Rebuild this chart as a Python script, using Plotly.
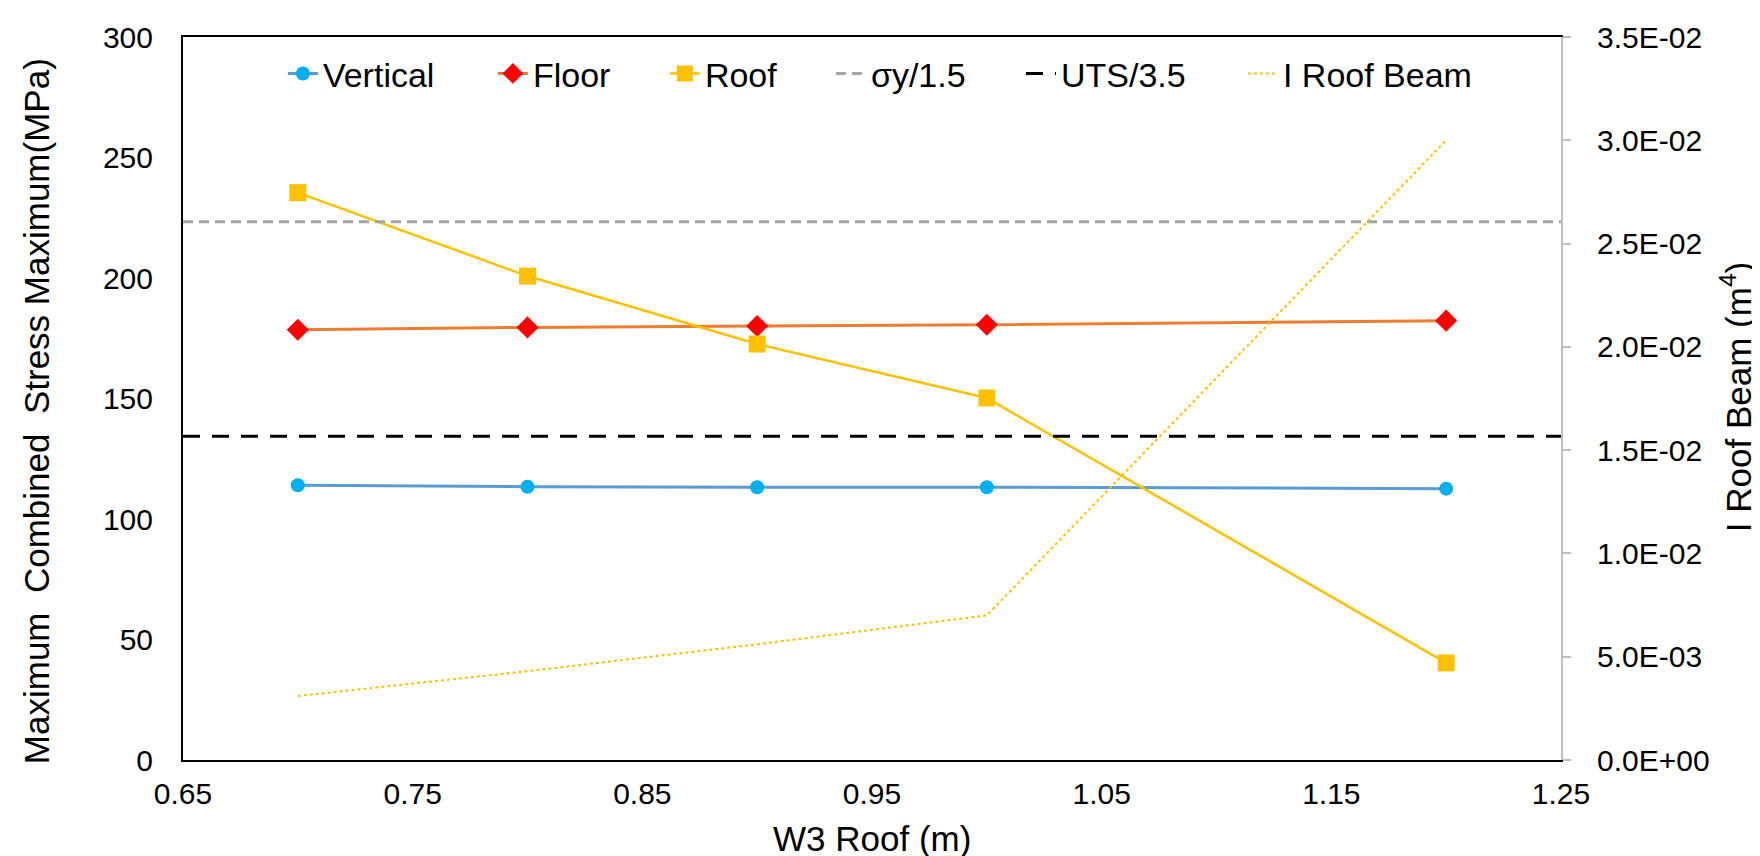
import plotly.graph_objects as go

# ---------------- data ----------------
w3_roof = [0.7, 0.8, 0.9, 1.0, 1.2]
vertical = [114.0, 113.4, 113.2, 113.2, 112.6]
floor = [178.5, 179.5, 180.1, 180.6, 182.3]
roof = [235.4, 200.8, 172.6, 150.2, 40.3]
i_roof_beam = [3.1e-3, 4.3e-3, 5.6e-3, 7.0e-3, 3.0e-2]
sigma_y_15 = 223.3
uts_35 = 134.3
x_limits = [0.65, 1.25]

y2_tickvals = [0.0, 0.005, 0.010, 0.015, 0.020, 0.025, 0.030, 0.035]
y2_ticktext = ["0.0E+00", "5.0E-03", "1.0E-02", "1.5E-02", "2.0E-02", "2.5E-02", "3.0E-02", "3.5E-02"]

FONT = "Arial, 'Liberation Sans', sans-serif"

fig = go.Figure()
fig.add_trace(go.Scatter(
    x=w3_roof, y=vertical, name="Vertical", mode="lines+markers", legend="legend",
    line=dict(color="#5B9BD5", width=3),
    marker=dict(symbol="circle", size=14, color="#00B0F0")))
fig.add_trace(go.Scatter(
    x=w3_roof, y=floor, name="Floor", mode="lines+markers", legend="legend2",
    line=dict(color="#ED7D31", width=3),
    marker=dict(symbol="diamond", size=17, color="#FF0000")))
fig.add_trace(go.Scatter(
    x=w3_roof, y=roof, name="Roof", mode="lines+markers", legend="legend3",
    line=dict(color="#FFC000", width=2.5),
    marker=dict(symbol="square", size=17, color="#FFC000")))
fig.add_trace(go.Scatter(
    x=x_limits, y=[sigma_y_15, sigma_y_15], name="σy/1.5", mode="lines", legend="legend4",
    line=dict(color="#A5A5A5", width=3, dash="10px,6px")))
fig.add_trace(go.Scatter(
    x=x_limits, y=[uts_35, uts_35], name="UTS/3.5", mode="lines", legend="legend5",
    line=dict(color="#000000", width=3, dash="17px,12px")))
fig.add_trace(go.Scatter(
    x=w3_roof, y=i_roof_beam, name="I Roof Beam", mode="lines", yaxis="y2", legend="legend6",
    line=dict(color="#FFC000", width=2, dash="dot")))

def leg(x):
    return dict(orientation="h", x=x, xanchor="left", y=0.949, yanchor="middle",
                bgcolor="rgba(0,0,0,0)", font=dict(size=34, family=FONT, color="#000000"))

fig.update_layout(
    width=1760, height=856,
    paper_bgcolor="white", plot_bgcolor="white",
    margin=dict(l=175, r=207, t=23, b=104),
    font=dict(family=FONT, size=30, color="#000000"),
    showlegend=True,
    legend=leg(0.0725), legend2=leg(0.2249), legend3=leg(0.3497),
    legend4=leg(0.4702), legend5=leg(0.6081), legend6=leg(0.7692),
    xaxis=dict(range=x_limits, tick0=0.65, dtick=0.1, showgrid=False, zeroline=False,
               showline=True, linecolor="#000000", linewidth=2, mirror=True,
               ticks="", ticklabelstandoff=6,
               tickfont=dict(size=30, family=FONT)),
    yaxis=dict(range=[0, 300], dtick=50, showgrid=False, zeroline=False,
               showline=True, linecolor="#000000", linewidth=2, ticks="",
               ticklabelstandoff=22,
               tickfont=dict(size=30, family=FONT)),
    yaxis2=dict(range=[0, 0.035], overlaying="y", side="right", showgrid=False, zeroline=False,
                tickvals=y2_tickvals, ticktext=y2_ticktext,
                showline=True, linecolor="#BFBFBF", linewidth=2,
                ticks="outside", ticklen=8, tickcolor="#BFBFBF", tickwidth=1.5,
                ticklabelstandoff=20,
                tickfont=dict(size=30, family=FONT)),
    annotations=[
        dict(text="W3 Roof (m)", xref="paper", yref="paper", x=0.5, y=-0.108,
             xanchor="center", yanchor="middle", showarrow=False,
             font=dict(size=35, family=FONT, color="#000000")),
        dict(text="Maximum  Combined  Stress Maximum(MPa)", xref="paper", yref="paper",
             x=-0.1064, y=0.483, xanchor="center", yanchor="middle", textangle=-90,
             showarrow=False, font=dict(size=35, family=FONT, color="#000000")),
        dict(text="I Roof Beam (m<sup>4</sup>)", xref="paper", yref="paper",
             x=1.1271, y=0.502, xanchor="center", yanchor="middle", textangle=-90,
             showarrow=False, font=dict(size=35, family=FONT, color="#000000")),
    ],
)

fig.write_html("out.html")
